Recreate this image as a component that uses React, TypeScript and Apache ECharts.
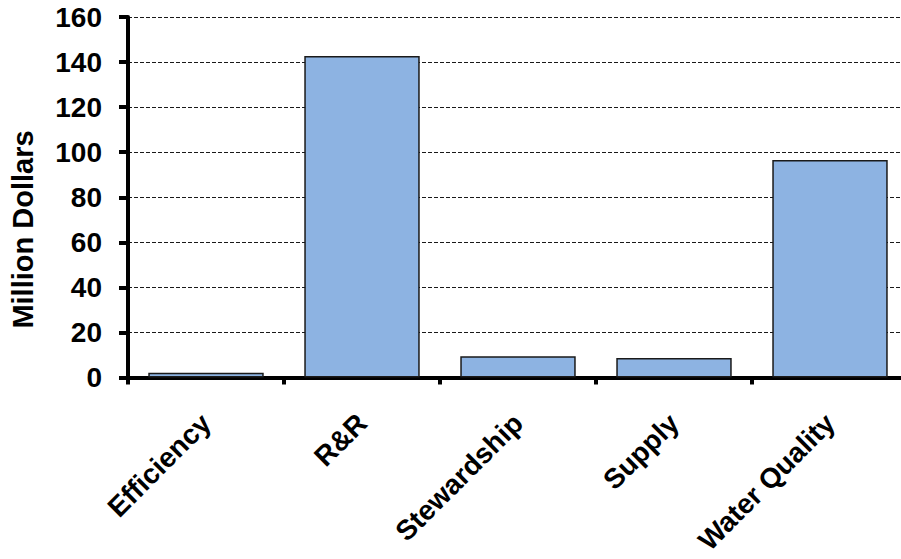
import React, { useEffect, useRef } from "react";
import * as echarts from "echarts";

// Spending by program area, in million dollars
const categories: string[] = ["Efficiency", "R&R", "Stewardship", "Supply", "Water Quality"];
const spending: number[] = [2.1, 142.7, 9.4, 8.7, 96.5];
const yTicks = { min: 0, max: 160, interval: 20 };
const yTitle = "Million Dollars";

const FONT = "'Liberation Sans', Arial, Helvetica, sans-serif";

export default function App() {
  const ref = useRef<HTMLDivElement>(null);

  useEffect(() => {
    if (!ref.current) return;
    const chart = echarts.init(ref.current, undefined, { renderer: "svg" });
    chart.setOption({
      animation: false,
      backgroundColor: "#ffffff",
      grid: { left: 128, right: 2, top: 17, bottom: 181.5, containLabel: false },
      xAxis: {
        type: "category",
        data: categories,
        axisLine: { show: true, lineStyle: { color: "#000", width: 4 } },
        axisTick: { show: true, length: 7, lineStyle: { color: "#000", width: 4 } },
        axisLabel: {
          rotate: 45,
          margin: 41,
          verticalAlign: "middle",
          color: "#000",
          fontFamily: FONT,
          fontWeight: "bold",
          fontSize: 28,
        },
      },
      yAxis: {
        type: "value",
        min: yTicks.min,
        max: yTicks.max,
        interval: yTicks.interval,
        axisLine: { show: true, lineStyle: { color: "#000", width: 4 } },
        axisTick: { show: true, length: 9, lineStyle: { color: "#000", width: 4 } },
        axisLabel: {
          margin: 26,
          color: "#000",
          fontFamily: FONT,
          fontWeight: "bold",
          fontSize: 28,
        },
        splitLine: {
          show: true,
          lineStyle: { color: "#1a1a1a", width: 1, type: [4, 2] },
        },
      },
      graphic: [
        {
          type: "text",
          x: 22.5,
          y: 229.5,
          rotation: Math.PI / 2,
          style: {
            text: yTitle,
            fill: "#000",
            font: `bold 29px ${FONT}`,
            align: "center",
            verticalAlign: "middle",
          },
        },
      ],
      series: [
        {
          type: "bar",
          data: spending,
          barCategoryGap: "26%",
          itemStyle: { color: "#8DB3E2", borderColor: "#1a1a1a", borderWidth: 1.5 },
        },
      ],
    });
    return () => chart.dispose();
  }, []);

  return (
    <div
      style={{
        position: "fixed",
        left: 0,
        top: 0,
        width: 901,
        height: 559,
        overflow: "hidden",
        background: "#fff",
      }}
    >
      <div ref={ref} style={{ width: 910, height: 559 }} />
    </div>
  );
}
